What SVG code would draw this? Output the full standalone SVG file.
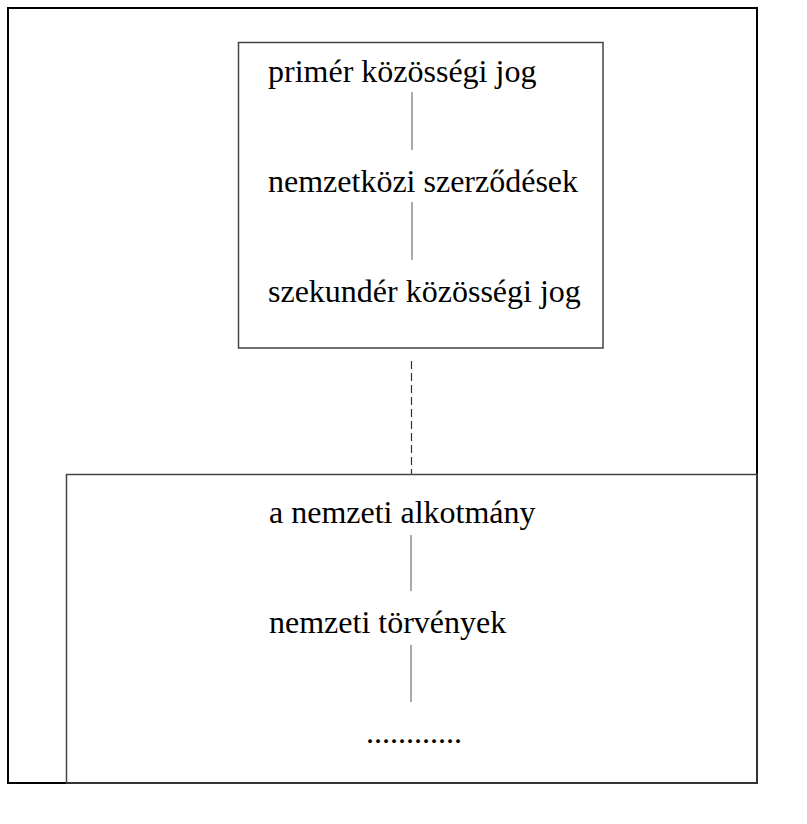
<svg xmlns="http://www.w3.org/2000/svg" width="807" height="824" viewBox="0 0 807 824">
<style>
.frame{fill:none;stroke:#000;stroke-width:2}
.box{fill:none;stroke:#444;stroke-width:1.5}
.t{font-family:"Liberation Serif","Times New Roman",serif;font-size:32px;fill:#000}
.c{stroke:#555;stroke-width:1;fill:none}
.d{stroke:#333;stroke-width:1.2;fill:none;stroke-dasharray:8 4}
</style>
<rect x="0" y="0" width="807" height="824" fill="#fff"/>
<rect id="frame" class="frame" x="8" y="8" width="749" height="775"/>
<g id="community">
<rect class="box" x="238.5" y="42.5" width="364.5" height="305.5"/>
<text class="t" x="268" y="82">primér közösségi jog</text>
<text class="t" x="268" y="192">nemzetközi szerződések</text>
<text class="t" x="268" y="302">szekundér közösségi jog</text>
</g>
<g id="national">
<rect class="box" x="66.5" y="474.5" width="690.5" height="308.5"/>
<text class="t" x="269" y="523">a nemzeti alkotmány</text>
<text class="t" x="269" y="633">nemzeti törvények</text>
<text class="t" x="366" y="743">............</text>
</g>
<g id="connectors">
<line class="c" x1="412" y1="92" x2="412" y2="150"/>
<line class="c" x1="412" y1="202" x2="412" y2="260"/>
<line class="d" x1="411.5" y1="361" x2="411.5" y2="474"/>
<line class="c" x1="411" y1="535" x2="411" y2="591"/>
<line class="c" x1="411" y1="645" x2="411" y2="702"/>
</g>
</svg>
